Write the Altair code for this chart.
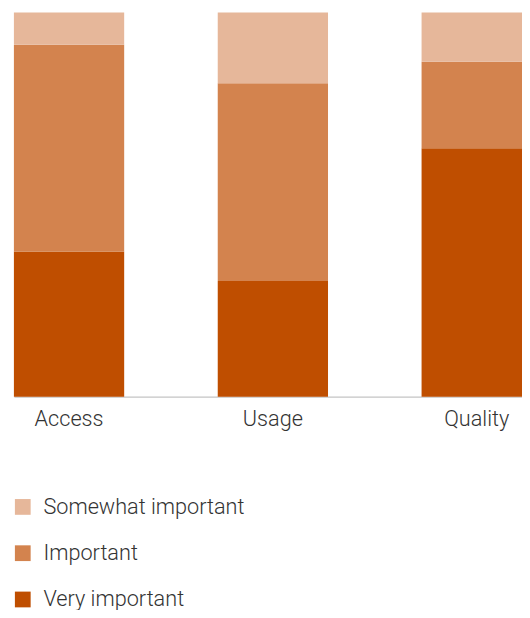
import altair as alt
import pandas as pd

categories = ["Access", "Usage", "Quality"]
levels = ["Somewhat important", "Important", "Very important"]
colors = ["#E6B79A", "#D3834E", "#BF4E00"]
very_important = [37.8, 30.1, 64.7]
important = [53.8, 51.5, 22.5]
somewhat_important = [8.4, 18.4, 12.8]

rows = []
for i, c in enumerate(categories):
    rows.append({"category": c, "level": "Very important", "value": very_important[i], "rank": 0})
    rows.append({"category": c, "level": "Important", "value": important[i], "rank": 1})
    rows.append({"category": c, "level": "Somewhat important", "value": somewhat_important[i], "rank": 2})
df = pd.DataFrame(rows)

FONT = "Roboto"

chart = alt.Chart(df).mark_bar().encode(
    x=alt.X("category:N", sort=categories, title=None,
            scale=alt.Scale(range=[0, 526], paddingInner=0.459, paddingOuter=0),
            axis=alt.Axis(labelAngle=0, ticks=False, tickSize=0, labelPadding=12,
                          labelFontSize=22, labelFont=FONT, labelFontWeight=300,
                          labelColor="#333333", domainColor="#c4c4c4", domainWidth=1.5,
                          grid=False)),
    y=alt.Y("value:Q", stack="zero", scale=alt.Scale(domain=[0, 100]), axis=None),
    color=alt.Color("level:N", scale=alt.Scale(domain=levels, range=colors),
                    legend=alt.Legend(title=None, orient="none", legendX=-2, legendY=491,
                                      symbolType="square", symbolSize=256,
                                      symbolStrokeWidth=0, labelFontSize=22,
                                      labelFont=FONT, labelFontWeight=300,
                                      labelColor="#333333", labelOffset=10,
                                      labelLimit=400, rowPadding=25)),
    order=alt.Order("rank:Q", sort="ascending"),
).properties(
    width=516, height=390,
    autosize=alt.AutoSizeParams(type="none"),
    padding={"left": 6, "top": 0, "right": 0, "bottom": 212},
).configure_view(strokeWidth=0)

chart.save("out.html", embed_options={"renderer": "svg", "actions": False})
